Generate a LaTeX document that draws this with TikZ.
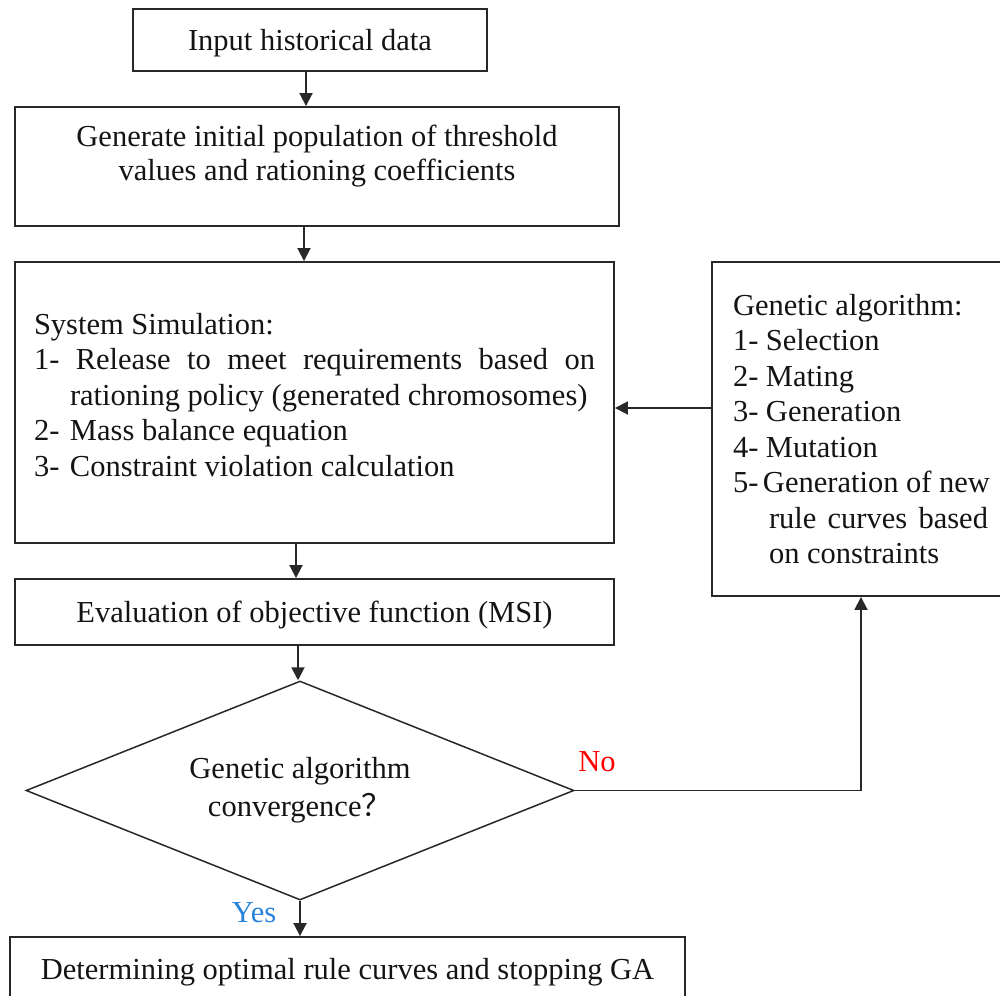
\documentclass[tikz,border=0pt]{standalone}
\usepackage{fontspec}
\setmainfont{Liberation Serif}
\newfontfamily\cjk{Noto Sans CJK SC}
\usetikzlibrary{shapes.geometric,arrows.meta}
\definecolor{ln}{RGB}{40,40,40}
\definecolor{tx}{RGB}{20,20,20}
\definecolor{yesblue}{RGB}{40,130,220}
\definecolor{nored}{RGB}{255,0,0}
\newcommand\bxt[4]{\begin{minipage}[c][#1][t]{#2}\vspace*{#3}#4\end{minipage}}
\begin{document}
\begin{tikzpicture}[x=1pt,y=-1pt,
  font=\fontsize{30.5pt}{35.5pt}\selectfont, text=tx,
  box/.style={draw=ln, line width=1.9pt, rectangle, inner sep=0pt},
  one/.style={box, text height=21pt, text depth=0pt},
  arr/.style={draw=ln, line width=1.9pt, -{Triangle[length=13pt,width=13pt]}}]
\useasboundingbox (0,0) rectangle (1000,995);
\clip (0,0) rectangle (1000,995);

\node[one, minimum width=354pt, minimum height=62pt] (in) at (310,40) {Input historical data};

\node[box, minimum width=604pt, minimum height=119pt] (gen) at (317,166.5)
  {\bxt{119pt}{590pt}{18pt}{\fontsize{30.5pt}{34pt}\selectfont\centering Generate initial population of threshold\\ values and rationing coefficients}};

\node[box, minimum width=599pt, minimum height=281pt] (sim) at (314.5,402.5)
  {\bxt{281pt}{561pt}{51pt}{\raggedright
   System Simulation:\\
   \makebox[561pt][s]{1- Release to meet requirements based on}\\
   \hspace*{36pt}rationing policy (generated chromosomes)\\
   \makebox[36pt][l]{2-}Mass balance equation\\
   \makebox[36pt][l]{3-}Constraint violation calculation}};

\node[box, minimum width=302pt, minimum height=334pt] (ga) at (863,429)
  {\bxt{334pt}{260pt}{32pt}{\raggedright
   Genetic algorithm:\\
   \makebox[33pt][l]{1-}Selection\\
   \makebox[33pt][l]{2-}Mating\\
   \makebox[33pt][l]{3-}Generation\\
   \makebox[33pt][l]{4-}Mutation\\
   \makebox[30pt][l]{5-}Generation of new\\
   \hspace*{36pt}\makebox[219pt][s]{rule curves based}\\
   \hspace*{36pt}on constraints}};

\node[one, minimum width=599pt, minimum height=66pt] (eval) at (314.5,612) {Evaluation of objective function (MSI)};

\node[draw=ln, line width=1.5pt, diamond, shape aspect=2.5, minimum width=548pt, minimum height=219pt, inner sep=0pt,
  align=center, font=\fontsize{30.5pt}{38pt}\selectfont] (dia) at (300,790.5)
  {Genetic algorithm\\convergence{\cjk ？}};

\node[one, minimum width=675pt, minimum height=63pt] (fin) at (347.5,968.5) {Determining optimal rule curves and stopping GA};

\node[text=nored] (no) at (597,762) {No};
\node[text=yesblue] (yes) at (254,913) {Yes};

\coordinate (gay) at (0,408);
\coordinate (gax) at (861,0);

\draw[arr] ([xshift=-4pt]in.south) -- ([xshift=-4pt]in.south |- gen.north);
\draw[arr] ([xshift=-13pt]gen.south) -- ([xshift=-13pt]gen.south |- sim.north);
\draw[arr] ([xshift=-18.5pt]sim.south) -- ([xshift=-18.5pt]sim.south |- eval.north);
\draw[arr] ([xshift=-16.5pt]eval.south) -- ([xshift=-16.5pt]eval.south |- dia.north);
\draw[arr] (dia.south) -- (dia.south |- fin.north);
\draw[arr] (ga.west |- gay) -- (sim.east |- gay);
\draw[arr] (dia.east) -| (ga.south -| gax);
\end{tikzpicture}
\end{document}
